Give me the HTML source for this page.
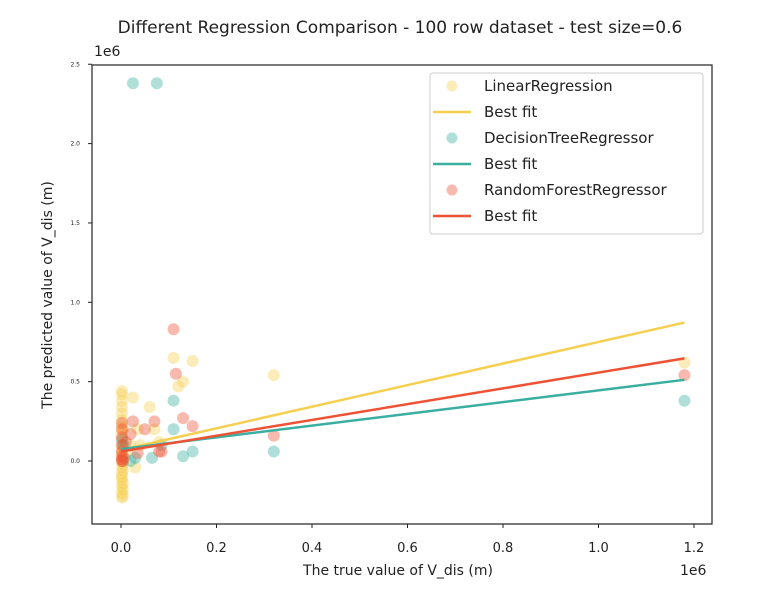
<!DOCTYPE html>
<html><head><meta charset="utf-8"><style>
body{margin:0;background:#fff;}
svg text{font-family:"DejaVu Sans","Liberation Sans",sans-serif;fill:#222;}
</style></head><body>
<svg id="chart" width="777" height="586" xmlns="http://www.w3.org/2000/svg">
<text x="400" y="33" font-size="17" text-anchor="middle">Different Regression Comparison - 100 row dataset - test size=0.6</text>
<g id="marks"></g>
<rect x="92" y="65" width="620" height="459" fill="none" stroke="#222" stroke-width="1.2"/>
<g id="axes"></g>
<text x="398" y="575" font-size="14" text-anchor="middle">The true value of V_dis (m)</text>
<text x="52" y="295" font-size="14" text-anchor="middle" transform="rotate(-90 52 295)">The predicted value of V_dis (m)</text>
<text x="94" y="56" font-size="14">1e6</text>
<text x="680" y="575" font-size="14">1e6</text>
<g id="legend"></g>
</svg>
<script>
const xTicks=[0,0.2,0.4,0.6,0.8,1.0,1.2];
const xTickLabels=["0.0","0.2","0.4","0.6","0.8","1.0","1.2"];
const yTicks=[0,0.5,1.0,1.5,2.0,2.5];
const yTickLabels=["0.0","0.5","1.0","1.5","2.0","2.5"];
const seriesNames=["LinearRegression","DecisionTreeRegressor","RandomForestRegressor"];
const seriesColors=["#f5cf4f","#3aafa0","#ee5234"];
const linX=[0.002,0.002,0.002,0.002,0.002,0.002,0.002,0.002,0.002,0.002,0.002,0.002,0.002,0.002,0.002,0.002,0.002,0.002,0.002,0.002,0.02,0.025,0.03,0.06,0.07,0.11,0.12,0.13,0.15,0.32,1.18,0.08,0.04,0.01,0.005,0.035,0.004,0.004,0.004,0.004,0.004,0.003];
const linY=[-0.23,-0.2,-0.16,-0.12,-0.08,-0.04,0.0,0.03,0.06,0.1,0.14,0.18,0.22,0.26,0.3,0.34,0.38,0.42,0.44,-0.1,0.1,0.4,-0.04,0.34,0.2,0.65,0.47,0.5,0.63,0.54,0.62,0.12,0.1,0.05,0.2,0.2,-0.22,-0.18,-0.14,-0.06,-0.02,0.08];
const dtX=[0.025,0.075,0.11,0.11,0.13,0.15,0.32,1.18,0.065,0.085,0.005,0.02,0.03,0.002];
const dtY=[2.38,2.38,0.38,0.2,0.03,0.06,0.06,0.38,0.02,0.1,0.1,0.0,0.02,0.13];
const rfX=[0.11,0.115,0.13,0.15,0.32,1.18,0.08,0.05,0.07,0.025,0.02,0.035,0.002,0.002,0.002,0.002,0.002,0.002,0.002,0.002,0.004,0.006,0.01,0.085];
const rfY=[0.83,0.55,0.27,0.22,0.16,0.54,0.06,0.2,0.25,0.25,0.17,0.05,0.0,0.01,0.03,0.06,0.1,0.15,0.2,0.24,0.0,0.02,0.12,0.06];
const fitIntercepts=[0.07,0.075,0.06];
const fitSlopes=[0.68,0.37,0.497];
const fitRange=[0.0,1.18];

const NS="http://www.w3.org/2000/svg";
const X0=121,XS=477.5,Y0=461,YS=158.7;
const sx=v=>X0+v*XS, sy=v=>Y0-v*YS;
function mk(tag,attrs,parent){const e=document.createElementNS(NS,tag);for(const k in attrs)e.setAttribute(k,attrs[k]);parent.appendChild(e);return e;}
const axes=document.getElementById('axes'),marks=document.getElementById('marks'),leg=document.getElementById('legend');
xTicks.forEach((t,i)=>{
  const l=mk('line',{x1:sx(t),x2:sx(t),y1:524,y2:528,stroke:'#222'},axes);
  
  
  const tx=mk('text',{x:sx(t),y:552,'font-size':13,'text-anchor':'middle'},axes);
  tx.textContent=xTickLabels[i];
  
  
});
yTicks.forEach((t,i)=>{
  const l=mk('line',{x1:88,x2:92,y1:sy(t),y2:sy(t),stroke:'#222'},axes);
  
  
  const tx=mk('text',{x:80,y:sy(t)+2,'font-size':6,'text-anchor':'end'},axes);
  tx.textContent=yTickLabels[i];
  
  
});
const sets=[[linX,linY],[dtX,dtY],[rfX,rfY]];
const names=['linear-point','decision-tree-point','random-forest-point'];
sets.forEach((s,k)=>{
  s[0].forEach((x,i)=>{
    const c=mk('circle',{cx:sx(x),cy:sy(s[1][i]),r:6,fill:seriesColors[k],'fill-opacity':0.4},marks);
    
    
  });
});
const fitNames=['linear-best-fit','decision-tree-best-fit','random-forest-best-fit'];
[0,1,2].forEach(k=>{
  const l=mk('line',{x1:sx(fitRange[0]),y1:sy(fitIntercepts[k]+fitSlopes[k]*fitRange[0]),x2:sx(fitRange[1]),y2:sy(fitIntercepts[k]+fitSlopes[k]*fitRange[1]),stroke:seriesColors[k],'stroke-width':2.5},marks);
  
  
});
const box=mk('rect',{x:430,y:73,width:273,height:161,rx:3,fill:'#fff','fill-opacity':0.85,stroke:'#ccc'},leg);


seriesNames.forEach((n,k)=>{
  const y1=86+k*52,y2=112+k*52;
  const c=mk('circle',{cx:452,cy:y1,r:5.5,fill:seriesColors[k],'fill-opacity':0.4},leg);
  
  
  const t1=mk('text',{x:484,y:y1+5,'font-size':15},leg);t1.textContent=n;
  
  
  const l=mk('line',{x1:433,x2:471,y1:y2,y2:y2,stroke:seriesColors[k],'stroke-width':2.5},leg);
  
  
  const t2=mk('text',{x:484,y:y2+5,'font-size':15},leg);t2.textContent='Best fit';
  
  
});
</script>
</body></html>
